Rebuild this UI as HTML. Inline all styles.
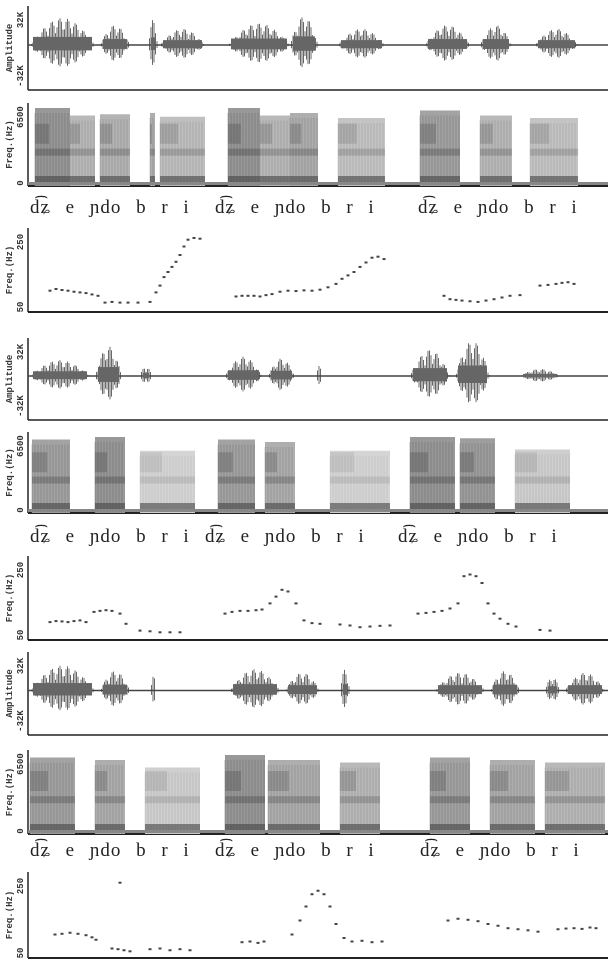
<!DOCTYPE html>
<html><head><meta charset="utf-8"><style>
body{margin:0;background:#fff;width:610px;height:961px;overflow:hidden}
svg{display:block}
.ax{font-family:"Liberation Mono",monospace;font-size:9px;font-weight:bold;fill:#333}
.ipa{font-family:"Liberation Serif","DejaVu Serif",serif;font-size:19px;fill:#222;word-spacing:9px;letter-spacing:1px}
</style></head><body>
<svg id="c" width="610" height="961" xmlns="http://www.w3.org/2000/svg"></svg>
<script>
const groups=[
 {wave:[6,90],spec:[103,186],lab:213,pitch:[228,312]},
 {wave:[338,420],spec:[432,513],lab:542,pitch:[556,640]},
 {wave:[652,735],spec:[750,834],lab:856,pitch:[872,958]}];
const wave1=[[30,95,.75],[100,130,.55],[148,158,.7],[160,205,.45],[228,290,.6],[290,318,.8],[338,385,.45],[425,470,.55],[480,512,.55],[535,578,.45]];
const wave2=[[30,90,.45],[95,122,.85],[140,152,.3],[225,262,.55],[268,295,.5],[316,322,.3],[410,450,.75],[455,490,1.0],[520,560,.2]];
const wave3=[[30,95,.7],[100,130,.55],[150,156,.5],[230,280,.6],[285,320,.5],[340,350,.6],[435,485,.5],[490,520,.55],[545,560,.4],[565,605,.5]];
const waves=[wave1,wave2,wave3];
const spec1=[[35,70,.8],[70,95,.5],[100,130,.55],[150,155,.6],[160,205,.45],[228,260,.8],[260,290,.5],[290,318,.6],[338,385,.4],[420,460,.7],[480,512,.5],[530,578,.4]];
const spec2=[[32,70,.7],[95,125,.8],[140,195,.25],[218,255,.7],[265,295,.6],[330,390,.25],[410,455,.8],[460,495,.75],[515,570,.3]];
const spec3=[[30,75,.7],[95,125,.6],[145,200,.3],[225,265,.8],[268,320,.6],[340,380,.5],[430,470,.7],[490,535,.6],[545,605,.5]];
const specs=[spec1,spec2,spec3];
const p1x=[50,56,62,68,74,80,86,92,98,105,112,120,128,138,150,156,160,164,168,172,176,180,184,188,194,200,236,242,248,254,260,266,272,280,288,296,304,312,320,328,336,342,348,354,360,366,372,378,384,444,450,456,462,470,478,486,494,502,510,520,540,548,556,562,568,574];
const p1v=[95,100,97,95,92,90,88,84,80,60,62,60,60,60,62,90,110,135,150,165,180,200,225,245,250,248,78,80,80,80,78,82,85,92,95,94,96,95,98,105,115,130,140,150,165,178,192,195,188,80,70,68,66,64,62,66,70,75,80,82,110,112,115,118,120,115];
const p2x=[50,56,62,68,74,80,86,94,100,106,112,120,126,140,150,160,170,180,225,232,240,248,256,262,270,276,282,288,296,304,312,320,340,350,360,370,380,390,418,426,434,442,450,458,464,470,476,482,488,494,500,508,516,540,550];
const p2v=[85,88,87,85,88,90,85,115,118,120,118,110,80,60,58,55,55,55,110,115,118,118,120,122,140,160,180,175,140,90,82,80,78,75,70,72,74,75,110,112,115,118,125,140,220,225,220,200,140,110,95,80,72,62,60];
const p3x=[55,62,70,78,86,92,96,112,118,124,130,150,160,170,180,190,242,250,258,264,292,300,306,312,318,324,330,336,344,352,362,372,382,448,458,468,478,488,498,508,518,528,538,558,566,574,582,590,596];
const p3v=[100,102,105,102,98,92,85,60,58,55,52,58,60,55,58,55,78,80,76,80,100,140,180,215,225,215,180,130,90,80,82,78,80,140,145,142,138,130,125,118,115,112,108,115,117,118,116,120,118];
const p3out=[[120,248]];
const pxs=[p1x,p2x,p3x],pvs=[p1v,p2v,p3v];
const ipaX=[[30,215,418],[30,205,398],[30,215,420]];
const NS="http://www.w3.org/2000/svg",S=document.getElementById('c');
function el(t,a,p){const e=document.createElementNS(NS,t);for(const k in a)e.setAttribute(k,a[k]);(p||S).appendChild(e);return e}
function yText(x,y,s){const t=el('text',{x:x,y:y,class:'ax',transform:`rotate(-90 ${x} ${y})`,'text-anchor':'middle'});t.textContent=s;return t}
const X0=28,X1=608;
groups.forEach((g,gi)=>{
 const wg=el('g',{});
 
 
 const [wt,wb]=g.wave,mid=(wt+wb)/2-3,half=(wb-wt)/2-6;
 el('line',{x1:X0,y1:wt,x2:X0,y2:wb,stroke:'#222','stroke-width':1.5},wg);
 el('line',{x1:X0,y1:wb,x2:X1,y2:wb,stroke:'#222','stroke-width':1.5},wg);
 el('line',{x1:X0,y1:mid,x2:X1,y2:mid,stroke:'#444','stroke-width':1.5},wg);
 waves[gi].forEach(s=>{let d='';for(let x=s[0];x<=s[1];x+=1.5){const f=Math.sin(Math.PI*(x-s[0])/(s[1]-s[0]));const r=(0.4+0.6*Math.abs(Math.sin(x*1.7)))*f*s[2]*half;d+=`M${x} ${mid-r}V${mid+r*0.8}`}
  el('path',{d:d,stroke:'#444','stroke-width':0.8},wg);
  el('rect',{x:s[0]+3,y:mid-half*s[2]*0.3,width:s[1]-s[0]-6,height:half*s[2]*0.5,fill:'#666'},wg)});
 yText(12,(wt+wb)/2,'Amplitude');
 yText(23,wt+14,'32K');yText(23,wb-14,'-32K');
 const sg=el('g',{});
 
 
 const [st,sb]=g.spec;
 el('line',{x1:X0,y1:st,x2:X0,y2:sb,stroke:'#222','stroke-width':1.5},sg);
 el('line',{x1:X0,y1:sb,x2:X1,y2:sb,stroke:'#222','stroke-width':2},sg);
 specs[gi].forEach(s=>{const c=Math.round(240-110*s[2]);
  el('rect',{x:s[0],y:st+(1-s[2])*25,width:s[1]-s[0],height:sb-st-(1-s[2])*25,fill:`rgb(${c},${c},${c})`},sg);
  for(let x=s[0];x<s[1];x+=3)el('line',{x1:x,y1:st+(1-s[2])*25+5,x2:x,y2:sb,stroke:'#666','stroke-width':0.7,opacity:s[2]*0.8},sg);
  el('rect',{x:s[0],y:sb-10,width:s[1]-s[0],height:8,fill:'#444',opacity:0.6},sg);
  el('rect',{x:s[0],y:st+(sb-st)*0.55,width:s[1]-s[0],height:7,fill:'#555',opacity:s[2]*0.6},sg);
  el('rect',{x:s[0],y:st+(sb-st)*0.25,width:(s[1]-s[0])*0.4,height:20,fill:'#555',opacity:s[2]*0.5},sg)});
 el('rect',{x:X0,y:sb-4,width:X1-X0,height:3,fill:'#888'},sg);
 yText(12,(st+sb)/2,'Freq.(Hz)');
 yText(23,st+14,'6500');yText(23,sb-3,'0');
 ipaX[gi].forEach((x,k)=>{const t=el('text',{x:x,y:g.lab,class:'ipa'});
  
  
  t.textContent='d͡ʑ e ɲdo b r i'});
 const pg=el('g',{});
 
 
 const [pt,pb]=g.pitch;
 const yS=v=>pb-6-(v-50)/200*(pb-pt-16);
 el('line',{x1:X0,y1:pt,x2:X0,y2:pb,stroke:'#222','stroke-width':1.5},pg);
 el('line',{x1:X0,y1:pb,x2:X1,y2:pb,stroke:'#222','stroke-width':2},pg);
 pxs[gi].forEach((x,i)=>{const r=el('rect',{x:x-1.5,y:yS(pvs[gi][i])-1,width:3,height:2,fill:'#444'},pg);
  
  });
 if(gi===2)p3out.forEach(p=>el('rect',{x:p[0]-1.5,y:yS(p[1])-1,width:3,height:2,fill:'#444'},pg));
 yText(12,(pt+pb)/2,'Freq.(Hz)');
 yText(23,pt+14,'250');yText(23,pb-5,'50');
});
</script>
</body></html>
